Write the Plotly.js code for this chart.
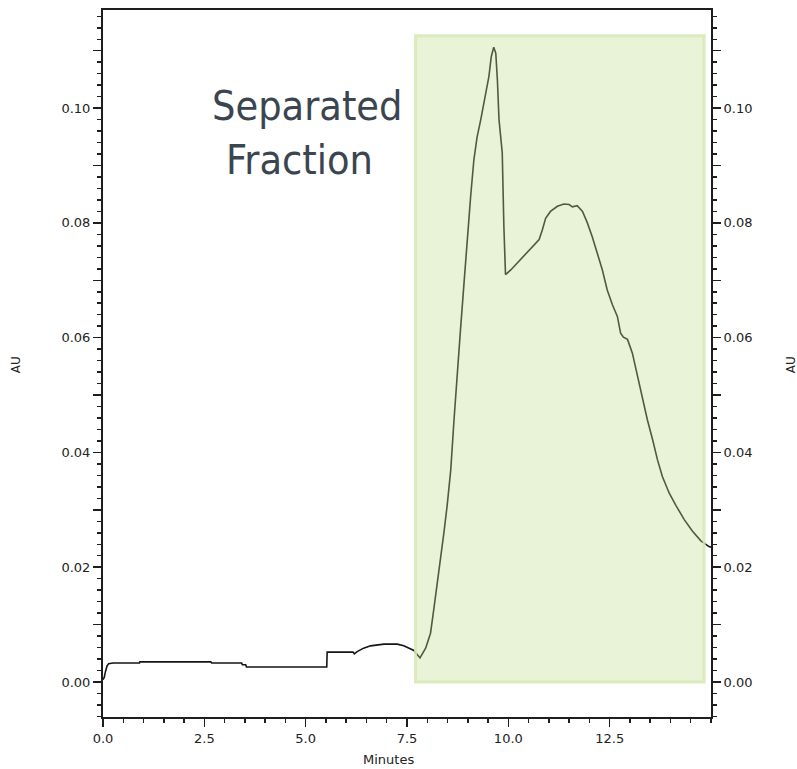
<!DOCTYPE html>
<html>
<head>
<meta charset="utf-8">
<script src="https://cdn.plot.ly/plotly-3.0.1.min.js"></script>
<style>
  html, body { margin: 0; padding: 0; background: #ffffff; }
  #chart { width: 797px; height: 769px; }
</style>
</head>
<body>
<div id="chart"></div>
<script>
// ---- Data ----
const minutes = [0.00, 0.03, 0.06, 0.10, 0.14, 0.25, 0.90, 0.91, 2.66, 2.68, 3.42, 3.44, 3.52, 3.54, 5.52, 5.53,
  6.17, 6.20, 6.27, 6.43, 6.60, 6.93, 7.26, 7.42, 7.67, 7.82,
  7.96, 8.08, 8.16, 8.25, 8.33, 8.41, 8.49, 8.58, 8.66, 8.74, 8.82, 8.90, 8.99, 9.07, 9.15, 9.23, 9.32, 9.40,
  9.52, 9.58, 9.64, 9.69, 9.73, 9.77, 9.85, 9.89, 9.93, 10.06, 10.22, 10.39, 10.59, 10.76, 10.84, 10.92,
  11.04, 11.21, 11.37, 11.50, 11.58, 11.70, 11.83, 11.95, 12.07, 12.20, 12.32, 12.44, 12.57, 12.69, 12.77,
  12.84, 12.94, 13.06, 13.19, 13.31, 13.43, 13.56, 13.68, 13.80, 13.97, 14.14, 14.34, 14.54, 14.75, 14.95, 15.00];
const absorbance = [0.0004, 0.0008, 0.0018, 0.0028, 0.0032, 0.0033, 0.0033, 0.0035, 0.0035, 0.0033, 0.0033, 0.0030, 0.0030, 0.0026, 0.0026, 0.0052,
  0.0052, 0.0049, 0.0053, 0.0059, 0.0063, 0.0066, 0.0066, 0.0063, 0.0055, 0.0042,
  0.0059, 0.0085, 0.0126, 0.0172, 0.0213, 0.0260, 0.0307, 0.0370, 0.0457, 0.0544, 0.0614, 0.0689, 0.0776, 0.0846, 0.0910, 0.0950, 0.0980, 0.1009,
  0.1055, 0.1090, 0.1106, 0.1096, 0.1049, 0.0980, 0.0922, 0.0794, 0.0710, 0.0718, 0.0730, 0.0744, 0.0759, 0.0771, 0.0788, 0.0808,
  0.0820, 0.0829, 0.0833, 0.0832, 0.0828, 0.0830, 0.0820, 0.0800, 0.0776, 0.0747, 0.0718, 0.0683, 0.0657, 0.0637, 0.0608,
  0.0601, 0.0597, 0.0573, 0.0532, 0.0492, 0.0457, 0.0422, 0.0387, 0.0358, 0.0329, 0.0307, 0.0283, 0.0263, 0.0246, 0.0236, 0.0235];

// Separated fraction window (minutes) and its height (AU)
const fractionWindow = [7.71, 14.83];
const fractionHeight = [0.0, 0.1126];
const fractionLabel = ['Separated', 'Fraction'];

// Axis ticks
const xTickValues = [0, 2.5, 5, 7.5, 10, 12.5];
const xTickLabels = ['0.0', '2.5', '5.0', '7.5', '10.0', '12.5'];
const yTickValues = [0.00, 0.01, 0.02, 0.03, 0.04, 0.05, 0.06, 0.07, 0.08, 0.09, 0.10, 0.11];
const yTickLabels = ['0.00', '', '0.02', '', '0.04', '', '0.06', '', '0.08', '', '0.10', ''];
const xTitle = 'Minutes';
const yTitle = 'AU';

// ---- Styling ----
const axisColor = '#1e1e1e';
const tickFont = { family: 'DejaVu Sans, Verdana, sans-serif', size: 13, color: '#222222' };
const labelFont = { family: 'Liberation Sans Narrow, Arial Narrow, DejaVu Sans Condensed, sans-serif', size: 41, color: '#3b4550' };
const yRange = [-0.0061, 0.1171];

function yAxisDef(side) {
  return {
    range: yRange,
    side: side,
    tickmode: 'array',
    tickvals: yTickValues,
    ticktext: yTickLabels,
    ticks: 'outside',
    ticklen: 8,
    tickwidth: 1.5,
    tickcolor: axisColor,
    tickfont: tickFont,
    showline: true,
    linecolor: axisColor,
    linewidth: 2,
    showgrid: false,
    zeroline: false,
    minor: { tickmode: 'linear', tick0: 0, dtick: 0.002, ticks: 'outside', ticklen: 4, tickwidth: 1.5, tickcolor: axisColor, showgrid: false },
    fixedrange: true
  };
}

const traces = [
  {
    x: minutes, y: absorbance, type: 'scatter', mode: 'lines',
    line: { color: '#151515', width: 1.6 },
    hoverinfo: 'skip', showlegend: false, xaxis: 'x', yaxis: 'y'
  },
  {
    x: minutes, y: absorbance, type: 'scatter', mode: 'lines',
    line: { color: 'rgba(0,0,0,0)', width: 0 },
    hoverinfo: 'skip', showlegend: false, xaxis: 'x', yaxis: 'y2'
  }
];

const y2 = yAxisDef('right');
y2.overlaying = 'y';
y2.anchor = 'x';

const layout = {
  width: 797, height: 769,
  margin: { l: 103, r: 86, t: 10, b: 52, pad: 0 },
  paper_bgcolor: '#ffffff', plot_bgcolor: '#ffffff',
  showlegend: false,
  xaxis: {
    range: [0, 15],
    tickmode: 'array', tickvals: xTickValues, ticktext: xTickLabels,
    ticks: 'outside', ticklen: 8, tickwidth: 1.5, tickcolor: axisColor,
    tickfont: tickFont,
    showline: true, linecolor: axisColor, linewidth: 2, mirror: true,
    showgrid: false, zeroline: false,
    minor: { tickmode: 'linear', tick0: 0, dtick: 0.5, ticks: 'outside', ticklen: 4, tickwidth: 1.5, tickcolor: axisColor, showgrid: false },
    fixedrange: true
  },
  yaxis: yAxisDef('left'),
  yaxis2: y2,
  shapes: [
    {
      type: 'rect', xref: 'x', yref: 'y',
      x0: fractionWindow[0], x1: fractionWindow[1],
      y0: fractionHeight[0], y1: fractionHeight[1],
      fillcolor: 'rgba(190,220,140,0.35)',
      line: { color: 'rgba(214,233,180,0.85)', width: 3 },
      layer: 'above'
    }
  ],
  annotations: [
    { text: fractionLabel[0], xref: 'x', yref: 'y', x: 5.04, y: 0.1004, xanchor: 'center', yanchor: 'middle', showarrow: false, font: labelFont },
    { text: fractionLabel[1], xref: 'x', yref: 'y', x: 4.85, y: 0.0910, xanchor: 'center', yanchor: 'middle', showarrow: false, font: labelFont },
    { text: xTitle, xref: 'paper', yref: 'paper', x: 0.469, y: -0.0604, xanchor: 'center', yanchor: 'middle', showarrow: false,
      font: { family: 'DejaVu Sans, Verdana, sans-serif', size: 13, color: '#222222' } },
    { text: yTitle, xref: 'paper', yref: 'paper', x: -0.1426, y: 0.498, xanchor: 'center', yanchor: 'middle', showarrow: false, textangle: -90,
      font: { family: 'DejaVu Sans, Verdana, sans-serif', size: 12, color: '#222222' } },
    { text: yTitle, xref: 'paper', yref: 'paper', x: 1.132, y: 0.498, xanchor: 'center', yanchor: 'middle', showarrow: false, textangle: -90,
      font: { family: 'DejaVu Sans, Verdana, sans-serif', size: 12, color: '#222222' } }
  ]
};

Plotly.newPlot('chart', traces, layout, { staticPlot: true, displayModeBar: false });
</script>
</body>
</html>
